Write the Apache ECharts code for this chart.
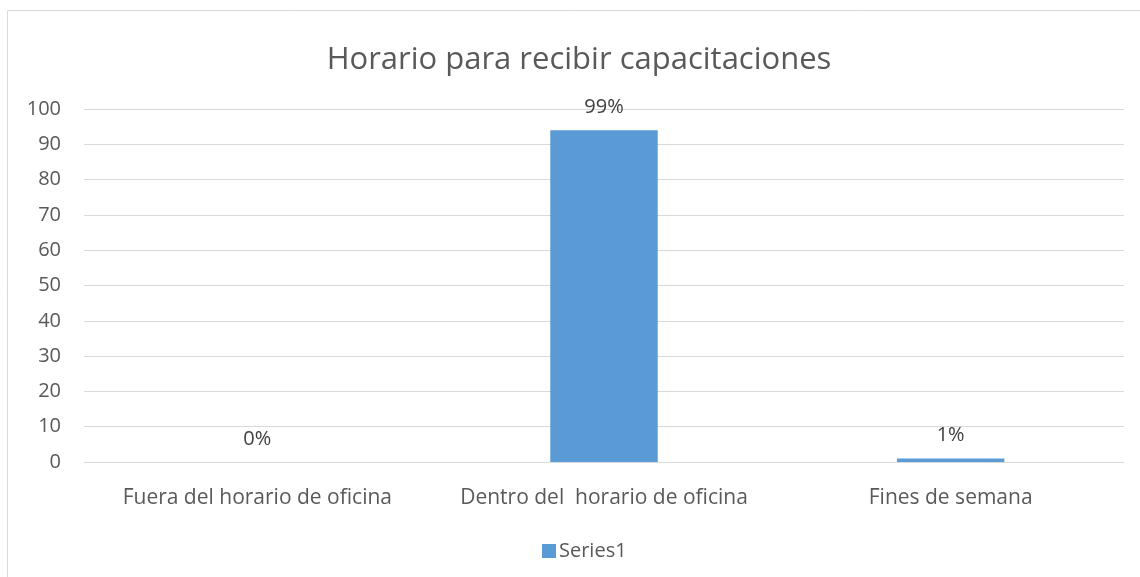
<!DOCTYPE html>
<html>
<head>
    <meta charset="UTF-8">
    <script src="https://cdn.jsdelivr.net/npm/echarts@6/dist/echarts.min.js"></script>
    <style type="text/css">
        html, body {
            margin: 0;
            padding: 0;
            background: #fff;
        }

        #chart {
            width: 1140px;
            height: 577px;
        }
    </style>
</head>
<body>
    <div id="chart"></div>
    <script type="text/javascript">
        var categories = ['Fuera del horario de oficina', 'Dentro del  horario de oficina', 'Fines de semana'];
        var values = [0, 94, 1];
        var pctLabels = ['0%', '99%', '1%'];
        var yTicks = { min: 0, max: 100, interval: 10 };

        var font = 'Open Sans';
        var chart = echarts.init(document.getElementById('chart'));
        chart.setOption({
            animation: false,
            textStyle: { fontFamily: font },
            graphic: [{
                type: 'rect',
                shape: { x: 7.5, y: 10.5, width: 1140, height: 600 },
                style: { fill: 'none', stroke: '#d9d9d9', lineWidth: 1 },
                silent: true
            }],
            title: {
                text: 'Horario para recibir capacitaciones',
                left: 574,
                textAlign: 'center',
                top: 40,
                textStyle: { fontFamily: font, fontSize: 31, fontWeight: 'normal', color: '#595959' }
            },
            legend: {
                top: 536,
                left: 537,
                itemWidth: 14,
                itemHeight: 14,
                icon: 'rect',
                itemGap: 4,
                textStyle: { fontFamily: font, fontSize: 20, color: '#595959', padding: [0, 0, 0, -2] },
                data: ['Series1']
            },
            grid: { left: 84, right: 16, top: 109, bottom: 115, containLabel: false },
            xAxis: {
                type: 'category',
                data: categories,
                axisLine: { lineStyle: { color: '#d9d9d9' } },
                axisTick: { show: false },
                axisLabel: { interval: 0, hideOverlap: false, fontFamily: font, fontSize: 21, color: '#595959', margin: 26 }
            },
            yAxis: {
                type: 'value',
                min: yTicks.min,
                max: yTicks.max,
                interval: yTicks.interval,
                axisLine: { show: false },
                axisTick: { show: false },
                splitLine: { lineStyle: { color: '#d9d9d9' } },
                axisLabel: { fontFamily: font, fontSize: 20, color: '#595959', margin: 23 }
            },
            series: [{
                name: 'Series1',
                type: 'bar',
                data: values,
                barWidth: '31%',
                itemStyle: { color: '#5b9bd5' },
                label: {
                    show: true,
                    position: 'top',
                    distance: 13,
                    fontFamily: font,
                    fontSize: 20,
                    color: '#404040',
                    formatter: function (p) { return pctLabels[p.dataIndex]; }
                }
            }]
        });
    </script>
</body>
</html>
